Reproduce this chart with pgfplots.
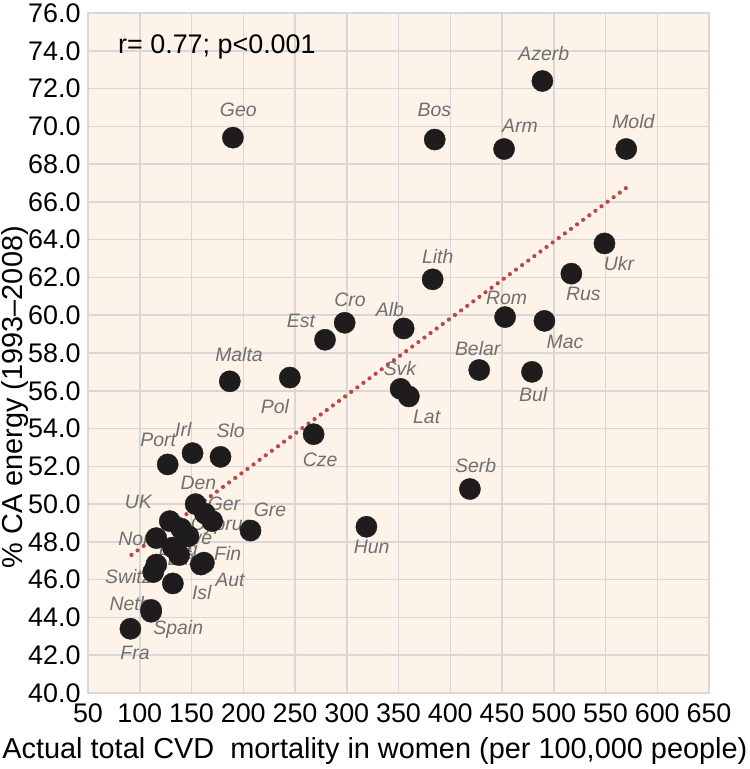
\documentclass[border=0pt]{standalone}
\usepackage{pgfplots}
\pgfplotsset{compat=1.18}
\usepackage{fontspec}
\setmainfont{Liberation Sans}
\definecolor{bgpeach}{RGB}{253,243,233}
\definecolor{gridgray}{RGB}{216,216,216}
\definecolor{labgray}{RGB}{112,112,112}
\definecolor{trendred}{RGB}{188,72,70}
\definecolor{dotblack}{RGB}{30,28,28}
\begin{document}
\begin{tikzpicture}
\useasboundingbox (0,0) rectangle (750bp,769bp);
\begin{axis}[
  at={(88bp,76bp)}, anchor=south west,
  width=621bp, height=680bp, scale only axis,
  xmin=50, xmax=650, ymin=40, ymax=76,
  xtick={50,100,...,650},
  ytick={40,42,...,76},
  major tick length=0pt,
  grid=major,
  major grid style={draw=gridgray, line width=1.5bp},
  axis line style={draw=gridgray, line width=1.7bp},
  axis background/.style={fill=bgpeach},
  /pgf/number format/assume math mode=true,
  tick label style={font=\fontsize{27}{27}\selectfont},
  yticklabel style={/pgf/number format/fixed, /pgf/number format/fixed zerofill, /pgf/number format/precision=1, xshift=-4bp},
  xticklabel style={/pgf/number format/fixed, /pgf/number format/1000 sep={}, yshift=-7bp},
  xlabel={Actual total CVD\ \ mortality in women (per 100,000 people)},
  ylabel={\% CA energy (1993–2008)},
  label style={font=\fontsize{29}{29}\selectfont},
  xlabel style={at={(axis description cs:0.462,-0.0855)}, anchor=center},
  ylabel style={at={(axis description cs:-0.1175,0.435)}, anchor=center},
  clip=false,
]
% trend line
\addplot[trendred, line width=4.2bp, line cap=round, dash pattern=on 0pt off 7.6bp] coordinates {(92,47.31) (570,66.74)};
% countries
\addplot[only marks, mark=*, mark size=10.6bp, mark options={fill=dotblack, draw=dotblack}] table {
x y
489 72.4
190 69.4
385 69.3
452 68.8
570 68.8
549 63.8
517 62.2
383 61.9
453 59.9
491 59.7
298 59.6
355 59.3
279 58.7
428 57.1
479 57.0
245 56.7
187 56.5
352 56.1
360 55.7
268 53.7
151 52.7
178 52.5
127 52.1
419 50.8
154 50.0
163 49.5
170 49.1
129 49.1
319 48.8
207 48.6
140 48.7
147 48.3
116 48.2
132 47.7
138 47.3
162 46.9
159 46.8
116 46.8
113 46.4
132 45.8
111 44.4
111 44.3
91 43.4
};
\node[anchor=west, font=\fontsize{27}{27}\selectfont] at (axis description cs:0.043,0.950) {r= 0.77; p<0.001};
\begin{scope}[every node/.style={font=\fontsize{19.5}{19.5}\selectfont\itshape, text=labgray, inner sep=0pt, anchor=center}]
\node at (axis cs:490.3,73.85) {Azerb};
\node at (axis cs:384.6,70.89) {Bos};
\node at (axis cs:467.4,70.02) {Arm};
\node at (axis cs:576.9,70.23) {Mold};
\node at (axis cs:195.2,70.89) {Geo};
\node at (axis cs:563,62.74) {Ukr};
\node at (axis cs:528.6,61.12) {Rus};
\node at (axis cs:510.9,58.59) {Mac};
\node at (axis cs:387.9,63.13) {Lith};
\node at (axis cs:303.1,60.8) {Cro};
\node at (axis cs:255.8,59.69) {Est};
\node at (axis cs:341.8,60.31) {Alb};
\node at (axis cs:454.5,60.94) {Rom};
\node at (axis cs:426.5,58.21) {Belar};
\node at (axis cs:480.2,55.81) {Bul};
\node at (axis cs:351.4,57.15) {Svk};
\node at (axis cs:377.2,54.59) {Lat};
\node at (axis cs:274.2,52.33) {Cze};
\node at (axis cs:424.6,52.03) {Serb};
\node at (axis cs:324.1,47.75) {Hun};
\node at (axis cs:195.9,57.94) {Malta};
\node at (axis cs:230.7,55.19) {Pol};
\node at (axis cs:117.9,53.39) {Port};
\node at (axis cs:142.1,53.96) {Irl};
\node at (axis cs:187.9,53.92) {Slo};
\node at (axis cs:156.6,51.1) {Den};
\node at (axis cs:98.6,50.13) {UK};
\node at (axis cs:181.4,50.0) {Ger};
\node at (axis cs:179.2,48.84) {Cyprus};
\node at (axis cs:225.8,49.69) {Gre};
\node at (axis cs:94.4,48.14) {Nor};
\node at (axis cs:151.7,48.19) {Swe};
\node at (axis cs:140.8,47.78) {Ita};
\node at (axis cs:137.2,47.57) {Belg};
\node at (axis cs:142.1,47.08) {Lux};
\node at (axis cs:185,47.4) {Fin};
\node at (axis cs:187.2,45.98) {Aut};
\node at (axis cs:88.9,46.16) {Switz};
\node at (axis cs:159.9,45.31) {Isl};
\node at (axis cs:90.6,44.75) {Neth};
\node at (axis cs:137.2,43.38) {Spain};
\node at (axis cs:95.4,42.14) {Fra};
\end{scope}
\end{axis}
\end{tikzpicture}
\end{document}
